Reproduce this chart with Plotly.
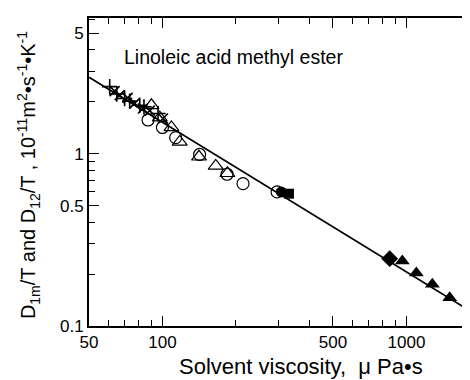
import plotly.graph_objects as go

# Data (x: solvent viscosity, muPa s ; y: D/T, 1e-11 m2 s-1 K-1)
cross_x = [60.8, 63.7, 65.0, 66.8, 70.0, 72.0, 73.4, 76.9, 80.7, 83.2, 84.0, 88.7, 95.9, 100.5]
cross_y = [2.45, 2.31, 2.22, 2.19, 2.09, 2.11, 2.02, 1.96, 1.91, 1.83, 1.87, 1.78, 1.71, 1.60]

circ_x = [87.3, 100.0, 113.3, 142.0, 184.0, 213.9, 295.0]
circ_y = [1.57, 1.42, 1.24, 0.99, 0.76, 0.67, 0.60]

tri_x = [90.1, 97.5, 108.8, 117.7, 141.2, 165.3, 184.6]
tri_y = [1.91, 1.62, 1.42, 1.17, 0.96, 0.85, 0.77]

fcirc_x = [307.0]
fcirc_y = [0.60]
fsq_x = [330.0]
fsq_y = [0.586]
fdia_x = [854.0]
fdia_y = [0.246]
ftri_x = [962.0, 1098.0, 1277.0, 1504.0]
ftri_y = [0.238, 0.203, 0.175, 0.146]

fit_x = [50.0, 1820.0]
fit_y = [2.78, 0.1225]

x_major = [50, 100, 500, 1000]
x_major_text = ["50", "100", "500", "1000"]
x_minor = [60, 70, 80, 90, 200, 300, 400, 600, 700, 800, 900]
y_major = [0.1, 0.5, 1, 5]
y_major_text = ["0.1", "0.5", "1", "5"]
y_minor = [0.2, 0.3, 0.4, 0.6, 0.7, 0.8, 0.9, 2, 3, 4, 6]

FONT = "Liberation Sans, Arial, Helvetica, sans-serif"

fig = go.Figure()
fig.add_trace(go.Scatter(x=fit_x, y=fit_y, mode="lines",
                         line=dict(color="black", width=1.8), showlegend=False))
fig.add_trace(go.Scatter(x=circ_x, y=circ_y, mode="markers",
                         marker=dict(symbol="circle-open", size=12, color="black",
                                     line=dict(width=1.2, color="black")), showlegend=False))
fig.add_trace(go.Scatter(x=tri_x, y=tri_y, mode="markers",
                         marker=dict(symbol="triangle-up-open", size=13, color="black",
                                     line=dict(width=1.2, color="black")), showlegend=False))
fig.add_trace(go.Scatter(x=cross_x[::2], y=cross_y[::2], mode="markers",
                         marker=dict(symbol="cross-thin-open", size=11, color="black",
                                     line=dict(width=1.6, color="black")), showlegend=False))
fig.add_trace(go.Scatter(x=cross_x[1::2], y=cross_y[1::2], mode="markers",
                         marker=dict(symbol="x-thin-open", size=10, color="black",
                                     line=dict(width=1.6, color="black")), showlegend=False))
for xs, ys, sym, sz in [(fcirc_x, fcirc_y, "circle", 11), (fsq_x, fsq_y, "square", 10),
                        (fdia_x, fdia_y, "diamond", 13), (ftri_x, ftri_y, "triangle-up", 13)]:
    fig.add_trace(go.Scatter(x=xs, y=ys, mode="markers",
                             marker=dict(symbol=sym, size=sz, color="black"), showlegend=False))

fig.update_xaxes(type="log", range=[1.699, 3.2605], showgrid=False, zeroline=False,
                 showline=True, linecolor="black", linewidth=2, mirror="ticks",
                 ticks="inside", ticklen=10, tickwidth=1, tickcolor="black",
                 tickmode="array", tickvals=x_major, ticktext=x_major_text,
                 tickfont=dict(size=17, color="black", family=FONT),
                 minor=dict(tickmode="array", tickvals=x_minor, ticks="inside",
                            ticklen=6, tickwidth=1, tickcolor="black"))
fig.update_yaxes(type="log", range=[-1, 0.7877], showgrid=False, zeroline=False,
                 showline=True, linecolor="black", linewidth=2, mirror=False,
                 ticks="inside", ticklen=10, tickwidth=1, tickcolor="black",
                 tickmode="array", tickvals=y_major, ticktext=y_major_text,
                 tickfont=dict(size=17, color="black", family=FONT),
                 minor=dict(tickmode="array", tickvals=y_minor, ticks="inside",
                            ticklen=6, tickwidth=1, tickcolor="black"))

fig.add_annotation(text="Linoleic acid methyl ester", xref="paper", yref="paper",
                   x=0.086, y=0.875, xanchor="left", yanchor="middle", showarrow=False,
                   font=dict(size=19.5, color="black", family=FONT))
fig.add_annotation(text="Solvent viscosity,  \u03bc Pa\u2022s", xref="paper", yref="paper",
                   x=0.556, y=-0.131, xanchor="center", yanchor="middle", showarrow=False,
                   font=dict(size=22, color="black", family=FONT))
fig.add_annotation(text="D<sub>1m</sub>/T and D<sub>12</sub>/T , 10<sup>-11</sup>m<sup>2</sup>\u2022s<sup>-1</sup>\u2022K<sup>-1</sup>",
                   xref="paper", yref="paper", x=-0.16, y=0.49, textangle=-90,
                   xanchor="center", yanchor="middle", showarrow=False,
                   font=dict(size=20, color="black", family=FONT))

# page body has an 8px default margin, so the figure is 8px smaller and shifted
fig.update_layout(width=462, height=372,
                  margin=dict(l=81, r=0, t=10, b=54, autoexpand=False),
                  plot_bgcolor="white", paper_bgcolor="white",
                  font=dict(family=FONT, color="black"))
fig.write_html("out.html")
